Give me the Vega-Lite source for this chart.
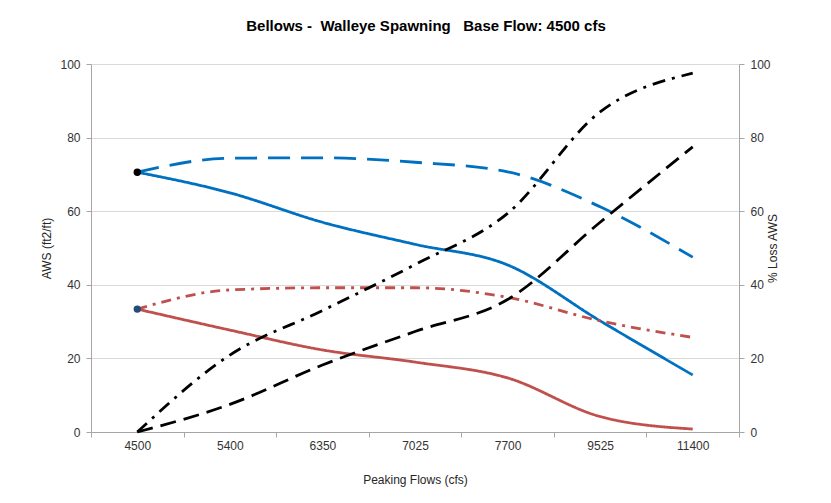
{
  "$schema": "https://vega.github.io/schema/vega-lite/v6.json",
  "width": 648,
  "height": 368,
  "autosize": "none",
  "padding": {"left": 91, "top": 64, "right": 92, "bottom": 71},
  "background": "white",
  "config": {
    "font": "Liberation Sans",
    "view": {"stroke": null},
    "axis": {"labelFont": "Liberation Sans", "titleFont": "Liberation Sans", "labelColor": "#333333", "titleColor": "#262626", "labelFontSize": 12, "titleFontSize": 12, "titleFontWeight": "normal", "domainColor": "#A6A6A6", "tickColor": "#A6A6A6", "gridColor": "#D9D9D9"}
  },
  "title": {"text": "Bellows -\u00a0\u00a0Walleye Spawning\u00a0\u00a0\u00a0Base Flow: 4500 cfs", "font": "Liberation Sans", "fontSize": 15, "fontWeight": "bold", "color": "#000000", "anchor": "middle", "dx": 11, "offset": 24},
  "datasets": {
    "aws": [
      {"flow": "4500", "series": "Blue solid", "value": 70.6},
      {"flow": "5400", "series": "Blue solid", "value": 65.0},
      {"flow": "6350", "series": "Blue solid", "value": 57.0},
      {"flow": "7025", "series": "Blue solid", "value": 51.0},
      {"flow": "7700", "series": "Blue solid", "value": 45.4},
      {"flow": "9525", "series": "Blue solid", "value": 30.2},
      {"flow": "11400", "series": "Blue solid", "value": 15.5},
      {"flow": "4500", "series": "Blue dashed", "value": 70.6},
      {"flow": "5400", "series": "Blue dashed", "value": 74.4},
      {"flow": "6350", "series": "Blue dashed", "value": 74.5},
      {"flow": "7025", "series": "Blue dashed", "value": 73.3},
      {"flow": "7700", "series": "Blue dashed", "value": 70.7},
      {"flow": "9525", "series": "Blue dashed", "value": 61.2},
      {"flow": "11400", "series": "Blue dashed", "value": 47.5},
      {"flow": "4500", "series": "Red solid", "value": 33.4},
      {"flow": "5400", "series": "Red solid", "value": 27.7},
      {"flow": "6350", "series": "Red solid", "value": 22.3},
      {"flow": "7025", "series": "Red solid", "value": 19.0},
      {"flow": "7700", "series": "Red solid", "value": 14.7},
      {"flow": "9525", "series": "Red solid", "value": 4.2},
      {"flow": "11400", "series": "Red solid", "value": 0.8},
      {"flow": "4500", "series": "Red dashdot", "value": 33.4},
      {"flow": "5400", "series": "Red dashdot", "value": 38.6},
      {"flow": "6350", "series": "Red dashdot", "value": 39.2},
      {"flow": "7025", "series": "Red dashdot", "value": 39.2},
      {"flow": "7700", "series": "Red dashdot", "value": 36.6},
      {"flow": "9525", "series": "Red dashdot", "value": 30.2},
      {"flow": "11400", "series": "Red dashdot", "value": 25.7}
    ],
    "markers": [
      {"flow": "4500", "series": "Blue base", "value": 70.6},
      {"flow": "4500", "series": "Red base", "value": 33.4}
    ],
    "loss": [
      {"flow": "4500", "series": "Black dashed", "value": 0},
      {"flow": "5400", "series": "Black dashed", "value": 7.5},
      {"flow": "6350", "series": "Black dashed", "value": 18.2},
      {"flow": "7025", "series": "Black dashed", "value": 27.3},
      {"flow": "7700", "series": "Black dashed", "value": 36.0},
      {"flow": "9525", "series": "Black dashed", "value": 57.0},
      {"flow": "11400", "series": "Black dashed", "value": 77.5},
      {"flow": "4500", "series": "Black dashdot", "value": 0},
      {"flow": "5400", "series": "Black dashdot", "value": 20.9},
      {"flow": "6350", "series": "Black dashdot", "value": 33.0},
      {"flow": "7025", "series": "Black dashdot", "value": 45.5},
      {"flow": "7700", "series": "Black dashdot", "value": 59.4},
      {"flow": "9525", "series": "Black dashdot", "value": 87.0},
      {"flow": "11400", "series": "Black dashdot", "value": 97.5}
    ]
  },
  "encoding": {
    "x": {
      "field": "flow",
      "type": "ordinal",
      "sort": ["4500", "5400", "6350", "7025", "7700", "9525", "11400"],
      "scale": {"type": "band", "paddingInner": 0, "paddingOuter": 0},
      "bandPosition": 0.5,
      "axis": {"title": "Peaking Flows (cfs)", "tickBand": "extent", "labelAngle": 0, "tickSize": 5, "labelPadding": 3, "titlePadding": 23, "domainColor": "#A6A6A6"}
    }
  },
  "layer": [
    {
      "layer": [
        {
          "mark": {"type": "rule", "color": "#262626", "strokeWidth": 1},
          "encoding": {"y": {"datum": 100, "type": "quantitative"}}
        },
        {
          "data": {"name": "aws"},
          "mark": {"type": "line", "interpolate": "monotone", "strokeWidth": 2.8, "strokeCap": "butt"},
          "encoding": {
            "y": {"field": "value", "type": "quantitative", "scale": {"domain": [0, 100], "nice": false}, "axis": {"title": "AWS (ft2/ft)", "values": [0, 20, 40, 60, 80, 100], "grid": true, "tickSize": 5, "labelPadding": 6, "titlePadding": 6}},
            "color": {"field": "series", "type": "nominal", "legend": null, "scale": {"domain": ["Blue solid", "Blue dashed", "Red solid", "Red dashdot"], "range": ["#0070C0", "#0070C0", "#C0504D", "#C0504D"]}},
            "strokeDash": {"field": "series", "type": "nominal", "legend": null, "scale": {"domain": ["Blue solid", "Blue dashed", "Red solid", "Red dashdot"], "range": [[1, 0], [22, 11], [1, 0], [10, 6, 3, 6]]}}
          }
        },
        {
          "data": {"name": "markers"},
          "mark": {"type": "point", "filled": true, "size": 55, "opacity": 1},
          "encoding": {
            "y": {"field": "value", "type": "quantitative"},
            "fill": {"field": "series", "type": "nominal", "legend": null, "scale": {"domain": ["Blue base", "Red base"], "range": ["#000000", "#1F4E79"]}}
          }
        }
      ]
    },
    {
      "data": {"name": "loss"},
      "mark": {"type": "line", "interpolate": "monotone", "strokeWidth": 2.8, "strokeCap": "butt", "color": "#000000"},
      "encoding": {
        "y": {"field": "value", "type": "quantitative", "scale": {"domain": [0, 100], "nice": false}, "axis": {"title": "% Loss AWS", "orient": "right", "values": [0, 20, 40, 60, 80, 100], "grid": false, "tickSize": 5, "labelPadding": 6, "titlePadding": 9, "titleAngle": -90, "titleBaseline": "bottom"}},
        "strokeDash": {"field": "series", "type": "nominal", "legend": null, "scale": {"domain": ["Black dashed", "Black dashdot"], "range": [[16, 8], [13, 7, 3, 7]]}}
      }
    }
  ],
  "resolve": {"scale": {"y": "independent", "strokeDash": "independent"}}
}
